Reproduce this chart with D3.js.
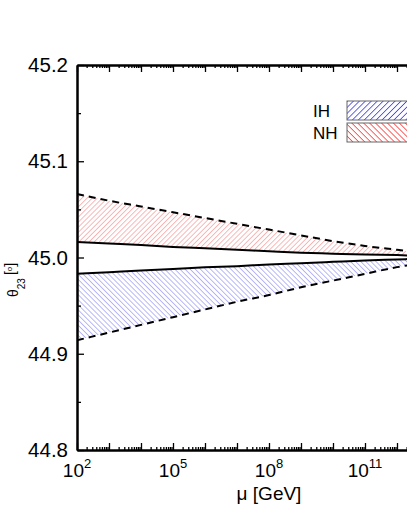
<!DOCTYPE html>
<html>
<head>
<meta charset="utf-8">
<script src="https://cdn.jsdelivr.net/npm/d3@7"></script>
<style>
  body { margin: 0; background: #fff; }
  svg { display: block; font-family: "Liberation Sans", Arial, sans-serif; }
  .axis path, .axis line { stroke: #000; }
</style>
</head>
<body>
<svg id="chart" width="407" height="527"></svg>
<script>
// scale in GeV, log10
var logMu = [2, 3, 4, 5, 6, 7, 8, 9, 10, 11, 12, 13, 14];
// NH band (red)
var nhUpper = [45.066, 45.059, 45.053, 45.047, 45.041, 45.035, 45.029, 45.023, 45.017, 45.012, 45.008, 45.004, 45.001];
var nhLower = [45.016, 45.0145, 45.013, 45.011, 45.0095, 45.008, 45.0065, 45.005, 45.004, 45.003, 45.0025, 45.0015, 45.001];
// IH band (blue)
var ihUpper = [44.983, 44.9847, 44.9865, 44.988, 44.9898, 44.991, 44.9928, 44.994, 44.9955, 44.997, 44.998, 44.999, 44.9995];
var ihLower = [44.914, 44.922, 44.930, 44.938, 44.946, 44.954, 44.961, 44.969, 44.976, 44.983, 44.990, 44.995, 44.999];

var yTicks = [44.8, 44.9, 45.0, 45.1, 45.2];
var xMajor = [2, 5, 8, 11];
var legendLabels = ["IH", "NH"];

var margin = {top: 65, left: 77};
var width = 384, height = 385;

var svg = d3.select("#chart");

var x = d3.scaleLog().domain([1e2, 1e14]).range([0, width]);
var y = d3.scaleLinear().domain([44.8, 45.2]).range([height, 0]);

var defs = svg.append("defs");
function hatch(id, color, angle, size, sw) {
  defs.append("pattern")
    .attr("id", id)
    .attr("patternUnits", "userSpaceOnUse")
    .attr("width", size).attr("height", size)
    .attr("patternTransform", "rotate(" + angle + ")")
    .append("line")
    .attr("x1", 0).attr("y1", 0).attr("x2", 0).attr("y2", size)
    .attr("stroke", color).attr("stroke-width", sw);
}
hatch("redFwd", "#f26464", 45, 3.6, 0.9);
hatch("blueBack", "#6464f2", -45, 3.6, 0.9);
hatch("blueFwdLeg", "#1010ff", 45, 4.2, 1.3);
hatch("redBackLeg", "#ff1010", -45, 4.2, 1.3);

defs.append("clipPath").attr("id", "plotClip")
  .append("rect").attr("width", width).attr("height", height);

var chart = svg.append("g")
  .attr("transform", "translate(" + margin.left + "," + margin.top + ")");

var plot = chart.append("g").attr("clip-path", "url(#plotClip)");

function band(up, lo) {
  return logMu.map(function(d, i) { return {mu: Math.pow(10, d), hi: up[i], lo: lo[i]}; });
}
var area = d3.area()
  .x(function(d) { return x(d.mu); })
  .y0(function(d) { return y(d.lo); })
  .y1(function(d) { return y(d.hi); })
  .curve(d3.curveMonotoneX);

plot.append("path").datum(band(nhUpper, nhLower))
  .attr("d", area).attr("fill", "url(#redFwd)");
plot.append("path").datum(band(ihUpper, ihLower))
  .attr("d", area).attr("fill", "url(#blueBack)");

var line = d3.line()
  .x(function(d) { return x(Math.pow(10, d[0])); })
  .y(function(d) { return y(d[1]); })
  .curve(d3.curveMonotoneX);

function pairs(arr) { return logMu.map(function(d, i) { return [d, arr[i]]; }); }

plot.append("path").datum(pairs(nhUpper)).attr("d", line)
  .attr("fill", "none").attr("stroke", "#000").attr("stroke-width", 2).attr("stroke-dasharray", "7,5");
plot.append("path").datum(pairs(ihLower)).attr("d", line)
  .attr("fill", "none").attr("stroke", "#000").attr("stroke-width", 2).attr("stroke-dasharray", "7,5");
plot.append("path").datum(pairs(nhLower)).attr("d", line)
  .attr("fill", "none").attr("stroke", "#000").attr("stroke-width", 2);
plot.append("path").datum(pairs(ihUpper)).attr("d", line)
  .attr("fill", "none").attr("stroke", "#000").attr("stroke-width", 2);

// minor ticks
var xMinor = [];
for (var e = 2; e < 14; e++) {
  for (var k = 2; k <= 9; k++) xMinor.push(k * Math.pow(10, e));
}
var xDecades = [];
for (var e2 = 2; e2 <= 14; e2++) xDecades.push(Math.pow(10, e2));
var yMinor = [44.85, 44.95, 45.05, 45.15];

function styleAxis(g) {
  g.attr("class", "axis");
  g.select(".domain").attr("stroke-width", 2);
  g.selectAll(".tick line").attr("stroke-width", 1.3);
}

// bottom axis
chart.append("g").attr("transform", "translate(0," + height + ")")
  .call(d3.axisBottom(x).tickValues(xMinor).tickSizeInner(-3).tickSizeOuter(0).tickFormat(""))
  .call(styleAxis);
chart.append("g").attr("transform", "translate(0," + height + ")")
  .call(d3.axisBottom(x).tickValues(xDecades).tickSizeInner(-7).tickSizeOuter(0).tickFormat(""))
  .call(styleAxis);
// top axis
chart.append("g")
  .call(d3.axisTop(x).tickValues(xMinor).tickSizeInner(-3).tickSizeOuter(0).tickFormat(""))
  .call(styleAxis);
chart.append("g")
  .call(d3.axisTop(x).tickValues(xDecades).tickSizeInner(-7).tickSizeOuter(0).tickFormat(""))
  .call(styleAxis);

// x major labels
var xl = chart.append("g").selectAll("text").data(xMajor).enter().append("text")
  .attr("x", function(d) { return x(Math.pow(10, d)); })
  .attr("y", height + 27)
  .attr("text-anchor", "middle")
  .attr("font-size", 19);
xl.append("tspan").text("10");
xl.append("tspan").attr("dy", -9).attr("font-size", 13).text(function(d) { return d; });

// left axis
chart.append("g")
  .call(d3.axisLeft(y).tickValues(yMinor).tickSizeInner(-4).tickSizeOuter(0).tickFormat(""))
  .call(styleAxis);
chart.append("g")
  .call(d3.axisLeft(y).tickValues(yTicks).tickSizeInner(-7).tickSizeOuter(0).tickPadding(9).tickFormat(d3.format(".1f")))
  .call(styleAxis)
  .selectAll("text").attr("font-size", 20.5).attr("fill", "#000")
  .attr("font-family", "Liberation Sans, Arial, sans-serif");
// right axis
chart.append("g").attr("transform", "translate(" + width + ",0)")
  .call(d3.axisRight(y).tickValues(yTicks).tickSizeInner(-7).tickSizeOuter(0).tickFormat(""))
  .call(styleAxis);

// axis titles
chart.append("text")
  .attr("x", width / 2).attr("y", height + 50)
  .attr("text-anchor", "middle").attr("font-size", 19)
  .text("\u03bc [GeV]");

var yt = svg.append("text")
  .attr("transform", "translate(18,297) rotate(-90)")
  .attr("font-size", 14);
yt.append("tspan").text("\u03b8");
yt.append("tspan").attr("dy", 7).attr("font-size", 10).text("23");
yt.append("tspan").attr("dy", -10).attr("dx", 3).text("[");
yt.append("tspan").attr("dy", -3).attr("font-size", 8).text("o");
yt.append("tspan").attr("dy", 3).text("]");

// legend
var legFills = ["url(#blueFwdLeg)", "url(#redBackLeg)"];
var leg = chart.append("g").attr("transform", "translate(270,36)");
leg.selectAll("rect").data(legendLabels).enter().append("rect")
  .attr("x", 0).attr("y", function(d, i) { return i * 22; })
  .attr("width", 70).attr("height", 19)
  .attr("fill", function(d, i) { return legFills[i]; })
  .attr("stroke", "#666").attr("stroke-width", 1);
leg.selectAll("text").data(legendLabels).enter().append("text")
  .attr("x", -34).attr("y", function(d, i) { return i * 22 + 16; })
  .attr("font-size", 17)
  .text(function(d) { return d; });
</script>
</body>
</html>
